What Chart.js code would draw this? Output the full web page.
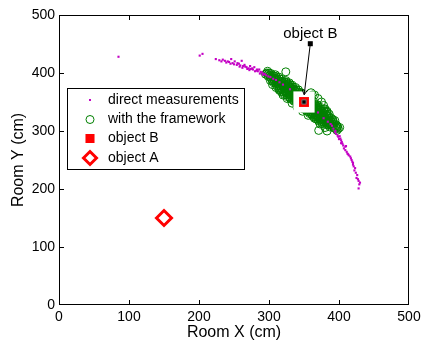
<!DOCTYPE html>
<html>
<head>
<meta charset="utf-8">
<script src="https://cdn.jsdelivr.net/npm/chart.js@4.4.0/dist/chart.umd.min.js"></script>
<style>
  html, body { margin: 0; padding: 0; background: #fff; }
</style>
</head>
<body>
<canvas id="myChart" width="424" height="347"></canvas>
<script>
// values (cm)
const xTicks = [0, 100, 200, 300, 400, 500];
const yTicks = [0, 100, 200, 300, 400, 500];

const directPoints = [
  [85,428],[201,430],[205,433],[224,424],[229,422],[232,420],[234,423],[237,421],[239,418],[241,420],
  [243,419],[245,416],[246,424],[248,417],[250,415],[251,420],[254,414],[255,417],[257,416],[258,411],
  [259,413],[261,421],[262,409],[263,412],[265,414],[266,411],[268,410],[269,407],[271,408],[272,405],
  [273,412],[274,407],[276,408],[277,406],[279,410],[280,403],[282,404],[283,406],[284,403],[286,406],
  [287,399],[288,402],[290,401],[291,397],[292,399],[294,398],[296,396],[299,394],[302,393],[306,390],
  [310,388],[315,384],[320,380],[330,372],[340,362],[350,352],[360,342],[370,332],[378,322],[384,316],
  [388,312],[390,309],[392,304],[394,298],[395,300],[396,295],[398,292],[399,290],[400,286],[401,291],
  [402,287],[403,284],[403,279],[404,281],[405,278],[406,275],[407,270],[409,273],[409,267],[410,274],
  [411,264],[412,261],[413,260],[414,258],[416,256],[417,253],[418,250],[419,247],[420,245],[420,242],
  [421,239],[422,232],[423,236],[424,228],[425,219],[426,224],[427,217],[428,214],[429,208],[428,201],
  [430,211]
];

const frameworkPoints = [
  [298,403],[297,400],[295,398],
  [303,399],[301,396],[299,394],
  [309,397],[307,395],[306,392],[304,389],[302,387],
  [314,393],[312,390],[310,388],[308,385],[307,383],
  [318,389],[316,386],[314,384],[313,381],[311,378],
  [324,387],[322,385],[321,382],[319,379],[317,377],[315,374],[314,372],
  [329,383],[327,381],[325,378],[323,375],[322,373],[320,370],[318,367],
  [333,379],[331,376],[330,374],[328,371],[326,368],[324,366],[322,363],
  [338,375],[336,372],[334,369],[332,367],[330,364],[329,362],[327,359],
  [342,371],[340,368],[338,365],[337,363],[335,360],[333,357],[331,355],
  [346,366],[345,364],[343,361],[341,358],[339,356],[338,353],[336,351],
  [351,362],[349,360],[347,357],[346,354],[344,352],[342,349],[340,346],
  [355,358],[354,355],[352,353],[350,350],[348,347],[347,345],[345,342],
  [360,354],[358,351],[356,348],[355,346],[353,343],[351,341],[349,338],
  [364,350],[362,347],[361,344],[359,342],[357,339],[355,336],[354,334],
  [369,345],[367,343],[365,340],[363,337],[362,335],[360,332],[358,330],
  [373,341],[371,339],[370,336],[368,333],[366,331],[364,328],[363,325],
  [378,337],[376,334],[374,332],[372,329],[370,326],[369,324],[367,321],
  [382,333],[380,330],[378,327],[377,325],[375,322],[373,320],[371,317],
  [386,329],[385,326],[383,323],[381,321],[379,318],[378,315],[376,313],
  [389,322],[387,319],[386,316],[384,314],[382,311],
  [394,318],[392,315],[390,312],[388,310],[387,307],
  [396,311],[395,308],[393,305],
  [401,306],[399,304],[397,301],
  [300,400],[298,397],[304,395],[302,393],
  [310,394],[309,391],[307,389],[305,386],
  [315,390],[313,387],[311,384],[310,382],
  [319,385],[318,383],[316,380],[314,378],
  [325,384],[324,381],[322,379],[320,376],[318,373],[317,371],
  [330,380],[328,377],[326,374],[325,372],[323,369],[321,367],
  [334,376],[333,373],[331,370],[329,368],[327,365],[326,362],
  [339,371],[337,369],[335,366],[334,363],[332,361],[330,358],
  [343,367],[342,364],[340,362],[338,359],[336,357],[334,354],
  [348,363],[346,360],[344,358],[342,355],[341,352],[339,350],
  [352,359],[350,356],[349,353],[347,351],[345,348],[343,346],
  [357,355],[355,352],[353,349],[351,347],[350,344],[348,341],
  [361,350],[359,348],[358,345],[356,342],[354,340],[352,337],
  [366,346],[364,343],[362,341],[360,338],[358,336],[357,333],
  [370,342],[368,339],[367,337],[365,334],[363,331],[361,329],
  [374,338],[373,335],[371,332],[369,330],[367,327],[366,325],
  [379,334],[377,331],[375,328],[374,326],[372,323],[370,320],
  [383,329],[382,327],[380,324],[378,321],[376,319],[375,316],
  [386,322],[384,320],[383,317],[381,315],
  [391,318],[389,316],[387,313],[385,310],
  [393,311],[391,309],[398,307],[396,305],
  [324,402],[365,362],[370,356],[375,350],[378,344],[380,338],[383,334],[360,366],[362,362],
  [305,380],[310,375],[315,370],[320,362],[326,356],[333,348],[340,341],[348,334],[356,327],
  [365,322],[373,312],[380,306],[371,301],[383,300],[397,309],[391,320]
];

const objectB = [[350, 350]];
const objectA = [[150, 150]];

const labelB = 'object B';
const labelBAt = [359, 467];
const arrowFrom = [359, 450.5];
const arrowTo = [350.3, 362.5];

const legendLabels = ['direct measurements', 'with the framework', 'object B', 'object A'];

const FONT = '"Liberation Sans", Arial, Helvetica, sans-serif';
const MAGENTA = '#c400c4';
const GREEN = '#008000';
const RED = '#ff0000';

const toXY = arr => arr.map(p => ({ x: p[0], y: p[1] }));

const framePlugin = {
  id: 'frame',
  afterDatasetsDraw(chart) {
    const { ctx, chartArea: a, scales: { x, y } } = chart;
    ctx.save();
    ctx.strokeStyle = '#000';
    ctx.lineWidth = 1;
    ctx.strokeRect(a.left + 0.5, a.top + 0.5, a.right - a.left - 1, a.bottom - a.top - 1);
    ctx.beginPath();
    xTicks.slice(1, -1).forEach(v => {
      const px = Math.round(x.getPixelForValue(v)) + 0.5;
      ctx.moveTo(px, a.bottom); ctx.lineTo(px, a.bottom - 5);
      ctx.moveTo(px, a.top); ctx.lineTo(px, a.top + 5);
    });
    yTicks.slice(1, -1).forEach(v => {
      const py = Math.round(y.getPixelForValue(v)) + 0.5;
      ctx.moveTo(a.left, py); ctx.lineTo(a.left + 5, py);
      ctx.moveTo(a.right, py); ctx.lineTo(a.right - 5, py);
    });
    ctx.stroke();

    // text arrow for object B
    const x0 = x.getPixelForValue(arrowFrom[0]), y0 = y.getPixelForValue(arrowFrom[1]);
    const x1 = x.getPixelForValue(arrowTo[0]), y1 = y.getPixelForValue(arrowTo[1]);
    ctx.beginPath();
    ctx.moveTo(x0, y0); ctx.lineTo(x1, y1);
    const ang = Math.atan2(y1 - y0, x1 - x0);
    ctx.moveTo(x1 - 6 * Math.cos(ang - 0.5), y1 - 6 * Math.sin(ang - 0.5));
    ctx.lineTo(x1, y1);
    ctx.lineTo(x1 - 6 * Math.cos(ang + 0.5), y1 - 6 * Math.sin(ang + 0.5));
    ctx.stroke();
    ctx.fillStyle = '#000';
    ctx.fillRect(x0 - 2.5, y0 - 2.5, 5, 5);
    ctx.font = '15px ' + FONT;
    ctx.textAlign = 'center';
    ctx.textBaseline = 'middle';
    ctx.fillText(labelB, x.getPixelForValue(labelBAt[0]), y.getPixelForValue(labelBAt[1]));
    ctx.restore();
  },
  afterDraw(chart) {
    const { ctx } = chart;
    const draw = Chart.helpers.drawPoint;
    ctx.save();
    ctx.fillStyle = '#fff';
    ctx.fillRect(67.5, 88.5, 177, 81);
    ctx.strokeStyle = '#000';
    ctx.lineWidth = 1;
    ctx.strokeRect(67.5, 88.5, 177, 81);
    const rows = [100, 119.5, 138.5, 158];
    const sx = 90;
    ctx.fillStyle = MAGENTA;
    draw(ctx, { pointStyle: 'rect', radius: 1.4, borderWidth: 0 }, sx, rows[0]);
    ctx.fillStyle = 'rgba(0,0,0,0)';
    ctx.strokeStyle = GREEN;
    ctx.lineWidth = 1;
    draw(ctx, { pointStyle: 'circle', radius: 4, borderWidth: 1 }, sx, rows[1]);
    ctx.fillStyle = RED;
    draw(ctx, { pointStyle: 'rect', radius: 6.4, borderWidth: 0 }, sx, rows[2]);
    ctx.fillStyle = '#fff';
    ctx.strokeStyle = RED;
    ctx.lineWidth = 3;
    draw(ctx, { pointStyle: 'rectRot', radius: 6.5, borderWidth: 3 }, sx, rows[3]);
    ctx.fillStyle = '#000';
    ctx.font = '14px ' + FONT;
    ctx.textAlign = 'left';
    ctx.textBaseline = 'middle';
    legendLabels.forEach((t, i) => ctx.fillText(t, 108, rows[i]));
    ctx.restore();
  }
};

const ctx = document.getElementById('myChart').getContext('2d');
const myChart = new Chart(ctx, {
  type: 'scatter',
  data: {
    datasets: [
      {
        label: 'with the framework',
        data: toXY(frameworkPoints),
        pointStyle: 'circle',
        pointRadius: 4,
        borderWidth: 1,
        borderColor: GREEN,
        backgroundColor: 'rgba(0,0,0,0)',
        order: 5
      },
      {
        label: 'direct measurements',
        data: toXY(directPoints),
        pointStyle: 'rect',
        pointRadius: 1.5,
        borderWidth: 0,
        backgroundColor: MAGENTA,
        order: 4
      },
      {
        label: 'B back',
        data: toXY(objectB),
        pointStyle: 'rect',
        pointRadius: 15,
        borderWidth: 0,
        backgroundColor: '#fff',
        order: 3
      },
      {
        label: 'object B',
        data: toXY(objectB),
        pointStyle: 'rect',
        pointRadius: 7,
        borderWidth: 0,
        backgroundColor: RED,
        order: 2
      },
      {
        label: 'B centre',
        data: toXY(objectB),
        pointStyle: 'rect',
        pointRadius: 3,
        borderWidth: 1,
        borderColor: '#777',
        backgroundColor: '#000',
        order: 1
      },
      {
        label: 'object A',
        data: toXY(objectA),
        pointStyle: 'rectRot',
        pointRadius: 7.5,
        borderWidth: 3,
        borderColor: RED,
        backgroundColor: '#fff',
        order: 0
      }
    ]
  },
  options: {
    responsive: false,
    animation: false,
    events: [],
    layout: { padding: { top: 8, right: 11, left: 0, bottom: 0 } },
    plugins: { legend: { display: false }, tooltip: { enabled: false } },
    scales: {
      x: {
        type: 'linear',
        min: 0,
        max: 500,
        afterBuildTicks: s => { s.ticks = xTicks.map(v => ({ value: v })); },
        afterFit: s => { s.height = 42; s.paddingLeft = 0; s.paddingRight = 0; },
        grid: { display: false, drawTicks: false },
        border: { display: false },
        ticks: { color: '#000', padding: 4, maxRotation: 0, font: { family: FONT, size: 14 } },
        title: {
          display: true, text: 'Room X (cm)', color: '#000',
          font: { family: FONT, size: 16 }, padding: { top: 0, bottom: 5 }
        }
      },
      y: {
        type: 'linear',
        min: 0,
        max: 500,
        afterBuildTicks: s => { s.ticks = yTicks.map(v => ({ value: v })); },
        afterFit: s => { s.width = 59; s.paddingTop = 0; s.paddingBottom = 0; },
        grid: { display: false, drawTicks: false },
        border: { display: false },
        ticks: { color: '#000', padding: 4, font: { family: FONT, size: 14 } },
        title: {
          display: true, text: 'Room Y (cm)', color: '#000',
          font: { family: FONT, size: 16 }, padding: { top: 9, bottom: 0 }
        }
      }
    }
  },
  plugins: [framePlugin]
});
</script>
</body>
</html>
